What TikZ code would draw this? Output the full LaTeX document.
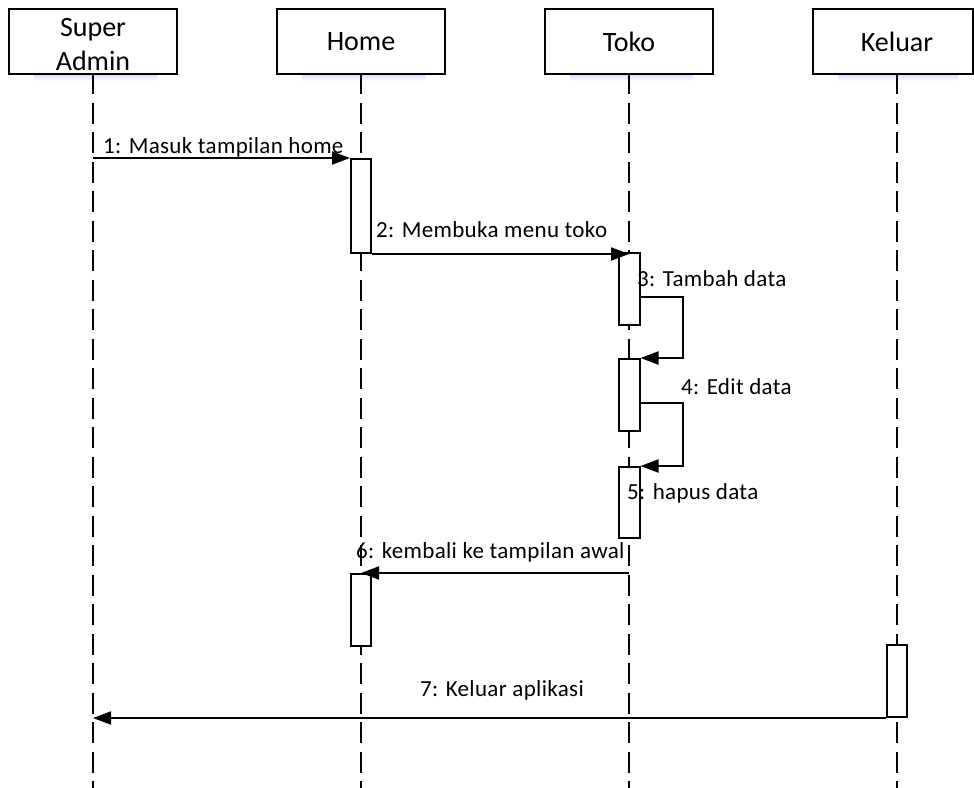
\documentclass[tikz,border=0pt]{standalone}
\usepackage{fontspec}
\setmainfont{Carlito}
\newfontfamily\msgfont[LetterSpace=1.5]{Carlito}
\usetikzlibrary{arrows.meta}
\begin{document}
\begin{tikzpicture}[x=1pt,y=-1pt,
  head/.style={draw, line width=2pt, fill=white, minimum height=65pt,
    inner sep=0pt, align=center, font=\fontsize{28}{34}\selectfont},
  headshade/.style={top color=blue!13, bottom color=white, draw=none},
  life/.style={line width=2pt, dash pattern=on 21pt off 8.5pt},
  act/.style={draw, line width=2pt, fill=white, minimum width=20pt,
    inner sep=0pt},
  msg/.style={line width=2pt, -{Triangle[length=18pt,width=13pt]}},
  lbl/.style={anchor=west, inner sep=0pt,
    font=\msgfont\fontsize{23}{27}\selectfont}]

\useasboundingbox (0,0) rectangle (974,787);

% soft shadows below the lifeline heads
\shade[headshade] (34,75) rectangle (157,81);
\shade[headshade] (302,75) rectangle (425,81);
\shade[headshade] (570,75) rectangle (693,81);
\shade[headshade] (838,75) rectangle (958,81);

% lifeline heads
\node[head, minimum width=168pt] (sa) at (93,41.5) {\rule{0pt}{25pt}Super\\Admin};
\node[head, minimum width=168pt] (ho) at (361,41.5) {Home};
\node[head, minimum width=168pt] (to) at (629,41.5) {Toko};
\node[head, minimum width=160pt] (ke) at (893,41.5) {\hspace*{8pt}Keluar};

% lifelines
\coordinate (keBot) at ([xshift=4pt]ke.south);
\draw[life] ([yshift=2pt]sa.south) -- (sa.south |- 0,800);
\draw[life] ([yshift=2pt]ho.south) -- (ho.south |- 0,800);
\draw[life] ([yshift=2pt]to.south) -- (to.south |- 0,800);
\draw[life] ([yshift=2pt]keBot) -- (keBot |- 0,800);

% activation bars
\node[act, minimum height=94pt] (hA1) at (361,206) {};
\node[act, minimum height=72pt, minimum width=21pt] (tA1) at (629,289) {};
\node[act, minimum height=72pt, minimum width=21pt] (tA2) at (629,395) {};
\node[act, minimum height=71pt, minimum width=21pt] (tA3) at (629,502.5) {};
\node[act, minimum height=72pt] (hA2) at (361,610) {};
\node[act, minimum height=72pt] (kA) at (897,681) {};

% messages
\draw[msg] (hA1.north west -| sa) -- (hA1.north west);
\draw[msg] (hA1.south east) -- (hA1.south east -| tA1.north);
\draw[msg] ([yshift=-8pt]tA1.east) -- ++(42,0) |- (tA2.north east);
\draw[msg] ([yshift=-8pt]tA2.east) -- ++(42,0) |- (tA3.north east);
\draw[msg] (hA2.north -| to) -- (hA2.north);
\draw[msg] (kA.south west) -- (kA.south west -| sa);

% message labels
\node[lbl] (m1) at (103,147) {1: Masuk tampilan home};
\node[lbl] (m2) at (376,230) {2: Membuka menu toko};
\node[lbl] (m3) at (637,279) {3: Tambah data};
\node[lbl] (m4) at (681,387) {4: Edit data};
\node[lbl] (m5) at (627,493) {5: hapus data};
\node[lbl] (m6) at (356,552) {6: kembali ke tampilan awal};
\node[lbl] (m7) at (420,690) {7: Keluar aplikasi};
\end{tikzpicture}
\end{document}
